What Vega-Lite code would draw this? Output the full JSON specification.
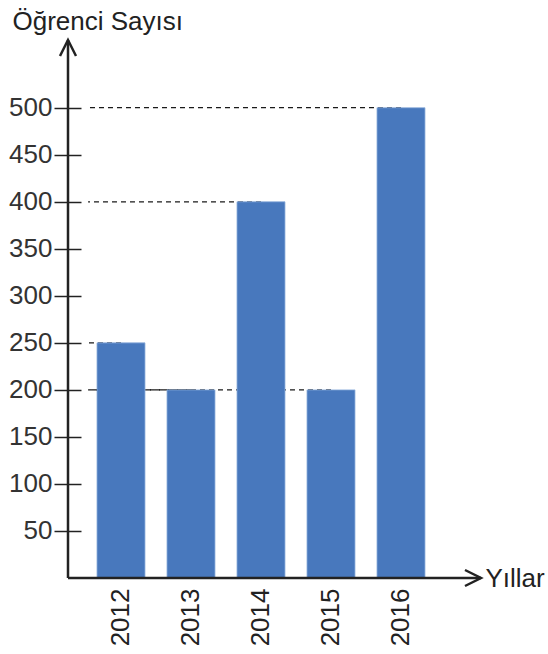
{
  "$schema": "https://vega.github.io/schema/vega-lite/v6.json",
  "autosize": {"type": "none"},
  "padding": {"left": 68, "top": 40, "right": 67, "bottom": 76},
  "width": 413,
  "height": 538,
  "background": "white",
  "config": {
    "view": {"stroke": null},
    "font": "Liberation Sans"
  },
  "data": {
    "values": [
      {"year": 2012, "count": 250},
      {"year": 2013, "count": 200},
      {"year": 2014, "count": 400},
      {"year": 2015, "count": 200},
      {"year": 2016, "count": 500}
    ]
  },
  "layer": [
    {
      "mark": {"type": "rule", "strokeDash": [5, 4], "strokeWidth": 1.2, "color": "#1a1a1a"},
      "encoding": {
        "x": {"field": "year", "type": "quantitative"},
        "x2": {"datum": 2011.53},
        "y": {"field": "count", "type": "quantitative"}
      }
    },
    {
      "mark": {"type": "bar", "width": 48, "color": "#4878bd", "stroke": "#8fb0dc", "strokeWidth": 0.8},
      "encoding": {
        "x": {
          "field": "year",
          "type": "quantitative",
          "scale": {"domain": [2011.243, 2017.143], "nice": false, "zero": false, "padding": 0},
          "axis": {
            "values": [2012, 2013, 2014, 2015, 2016],
            "format": "d",
            "domain": false,
            "grid": false,
            "ticks": false,
            "labelAngle": 270,
            "labelAlign": "right",
            "labelBaseline": "middle",
            "labelPadding": 10,
            "labelFontSize": 26,
            "labelColor": "#222222",
            "title": "Yıllar",
            "titleFontSize": 26,
            "titleFontWeight": "normal",
            "titleColor": "#222222",
            "titleAlign": "left",
            "titleBaseline": "alphabetic",
            "titleX": 417,
            "titleY": 8
          }
        },
        "y": {
          "field": "count",
          "type": "quantitative",
          "scale": {"domain": [0, 572], "nice": false, "padding": 0},
          "axis": {
            "values": [50, 100, 150, 200, 250, 300, 350, 400, 450, 500],
            "domain": false,
            "grid": false,
            "offset": -13,
            "tickSize": 27,
            "tickColor": "#222222",
            "tickWidth": 1.5,
            "labelPadding": 2,
            "labelFontSize": 26,
            "labelColor": "#333333",
            "title": "Öğrenci Sayısı",
            "titleFontSize": 26,
            "titleFontWeight": "normal",
            "titleColor": "#222222",
            "titleAngle": 0,
            "titleAlign": "left",
            "titleBaseline": "alphabetic",
            "titleX": -69,
            "titleY": -11
          }
        }
      }
    },
    {
      "data": {"values": [{"a": 1}]},
      "mark": {"type": "rule", "strokeWidth": 2.5, "color": "#222222"},
      "encoding": {
        "x": {"datum": 2011.243, "type": "quantitative"},
        "y": {"datum": 0, "type": "quantitative"},
        "y2": {"datum": 572}
      }
    },
    {
      "data": {"values": [{"a": 1}]},
      "mark": {"type": "rule", "strokeWidth": 2.5, "color": "#222222"},
      "encoding": {
        "x": {"datum": 2011.243, "type": "quantitative"},
        "x2": {"datum": 2017.143},
        "y": {"datum": 0, "type": "quantitative"}
      }
    },
    {
      "data": {"values": [{"a": 1}]},
      "mark": {"type": "point", "shape": "M-1,2L0,0L1,2", "size": 256, "filled": false, "stroke": "#222222", "strokeWidth": 2.5, "opacity": 1},
      "encoding": {
        "x": {"datum": 2011.243, "type": "quantitative"},
        "y": {"datum": 572, "type": "quantitative"}
      }
    },
    {
      "data": {"values": [{"a": 1}]},
      "mark": {"type": "point", "shape": "M-2,-1L0,0L-2,1", "size": 256, "filled": false, "stroke": "#222222", "strokeWidth": 2.5, "opacity": 1},
      "encoding": {
        "x": {"datum": 2017.143, "type": "quantitative"},
        "y": {"datum": 0, "type": "quantitative"}
      }
    }
  ]
}
